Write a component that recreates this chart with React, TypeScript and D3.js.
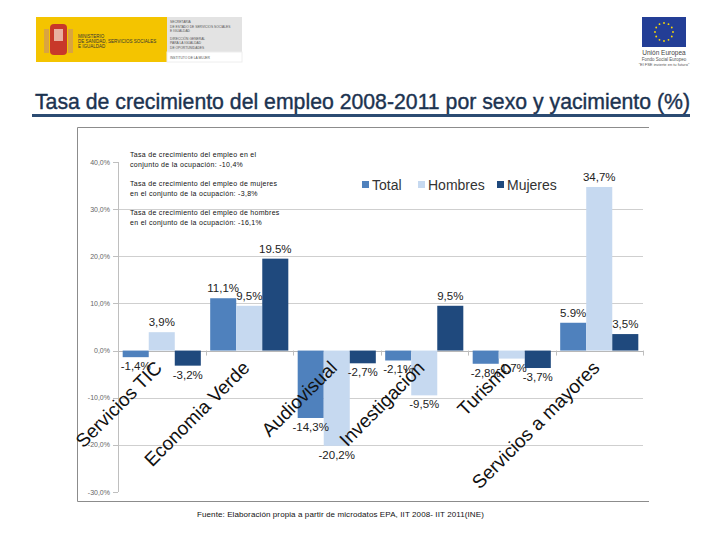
import { useEffect, useRef } from 'react';
import * as d3 from 'd3';

const categories = ['Servicios TIC', 'Economia Verde', 'Audiovisual', 'Investigación', 'Turismo', 'Servicios a mayores'];
const seriesNames = ['Total', 'Hombres', 'Mujeres'];
const totalValues = [-1.4, 11.1, -14.3, -2.1, -2.8, 5.9];
const hombresValues = [3.9, 9.5, -20.2, -9.5, -1.7, 34.7];
const mujeresValues = [-3.2, 19.5, -2.7, 9.5, -3.7, 3.5];
const totalLabels = ['-1,4%', '11,1%', '-14,3%', '-2,1%', '-2,8%', '5.9%'];
const hombresLabels = ['3,9%', '9,5%', '-20,2%', '-9,5%', '-1,7%', '34,7%'];
const mujeresLabels = ['-3,2%', '19.5%', '-2,7%', '9,5%', '-3,7%', '3,5%'];
const yTicks = [40, 30, 20, 10, 0, -10, -20, -30];
const yTickLabels = ['40,0%', '30,0%', '20,0%', '10,0%', '0,0%', '-10,0%', '-20,0%', '-30,0%'];
const gridTicks = [30, 20, 10, 0, -10, -20];
const noteLines = [
  'Tasa de crecimiento del empleo en el',
  'conjunto de la ocupación: -10,4%',
  'Tasa de crecimiento del empleo de mujeres',
  'en el conjunto de la ocupación: -3,8%',
  'Tasa de crecimiento del empleo de hombres',
  'en el conjunto de la ocupación: -16,1%',
];
const colors = ['#4f81bd', '#c6d9f0', '#1f497d'];
const title = 'Tasa de crecimiento del empleo 2008-2011 por sexo y yacimiento (%)';
const source = 'Fuente: Elaboración propia a partir de microdatos EPA, IIT 2008- IIT 2011(INE)';

export default function App() {
  const svgRef = useRef<SVGSVGElement>(null);

  useEffect(() => {
    if (!svgRef.current) return;
    const svg = d3.select(svgRef.current);
    svg.selectAll('*').remove();
    const font = 'Arial, "Liberation Sans", sans-serif';

    svg.append('rect').attr('width', 720).attr('height', 540).attr('fill', '#fff');

    // logos (simplified)
    const logo = svg.append('g');
    logo.append('rect').attr('x', 36).attr('y', 17).attr('width', 131).attr('height', 45).attr('fill', '#f4c400');
    logo.append('rect').attr('x', 167).attr('y', 17).attr('width', 75).attr('height', 35).attr('fill', '#e3e3e3');
    logo.append('rect').attr('x', 167).attr('y', 52).attr('width', 75).attr('height', 10).attr('fill', '#fff').attr('stroke', '#eee');
    logo.append('rect').attr('x', 44).attr('y', 29).attr('width', 5).attr('height', 24).attr('fill', '#d9a441');
    logo.append('rect').attr('x', 68).attr('y', 29).attr('width', 5).attr('height', 24).attr('fill', '#d9a441');
    logo.append('rect').attr('x', 50).attr('y', 24).attr('width', 17).attr('height', 31).attr('rx', 4).attr('fill', '#c8382a');
    logo.append('rect').attr('x', 54).attr('y', 29).attr('width', 9).attr('height', 12).attr('fill', '#e8b0a0');
    ['MINISTERIO', 'DE SANIDAD, SERVICIOS SOCIALES', 'E IGUALDAD'].forEach((t, i) => {
      logo.append('text').attr('x', 78).attr('y', 38 + i * 5).attr('font-size', 4.5).attr('font-family', font)
        .attr('fill', '#333').text(t);
    });
    ['SECRETARÍA', 'DE ESTADO DE SERVICIOS SOCIALES', 'E IGUALDAD', 'DIRECCIÓN GENERAL', 'PARA LA IGUALDAD', 'DE OPORTUNIDADES'].forEach((t, i) => {
      logo.append('text').attr('x', 170).attr('y', 23 + i * 4.5 + (i > 2 ? 3 : 0)).attr('font-size', 3.3)
        .attr('font-family', font).attr('fill', '#555').text(t);
    });
    logo.append('text').attr('x', 170).attr('y', 59).attr('font-size', 3.3).attr('font-family', font)
      .attr('fill', '#555').text('INSTITUTO DE LA MUJER');

    const eu = svg.append('g');
    eu.append('rect').attr('x', 642).attr('y', 17).attr('width', 44).attr('height', 30).attr('fill', '#233e96');
    d3.range(12).forEach(i => {
      const a = (i / 12) * Math.PI * 2;
      eu.append('circle').attr('cx', 664 + Math.cos(a) * 9).attr('cy', 32 + Math.sin(a) * 9).attr('r', 0.9).attr('fill', '#ffdd00');
    });
    eu.append('text').attr('x', 664).attr('y', 55).attr('text-anchor', 'middle').attr('font-size', 6.5)
      .attr('font-family', font).attr('fill', '#444').text('Unión Europea');
    eu.append('text').attr('x', 664).attr('y', 61).attr('text-anchor', 'middle').attr('font-size', 4.5)
      .attr('font-family', font).attr('fill', '#555').text('Fondo Social Europeo');
    eu.append('text').attr('x', 664).attr('y', 66).attr('text-anchor', 'middle').attr('font-size', 4)
      .attr('font-family', font).attr('fill', '#555').text('"El FSE invierte en tu futuro"');

    // title
    svg.append('text').attr('x', 35).attr('y', 109)
      .attr('font-size', 22).attr('font-family', font).attr('fill', '#1c3350')
      .attr('stroke', '#1c3350').attr('stroke-width', 0.4)
      .attr('textLength', 655).attr('lengthAdjust', 'spacingAndGlyphs').text(title);
    svg.append('rect').attr('x', 32).attr('y', 114).attr('width', 658).attr('height', 3).attr('fill', '#2b4b72');

    // frame
    svg.append('path').attr('d', 'M649,127.5H77.5V501.5H649').attr('fill', 'none').attr('stroke', '#8c8c8c').attr('stroke-width', 1);

    // scales
    const y = d3.scaleLinear().domain([-30, 40]).range([492, 162]);
    const x0 = d3.scaleBand<string>().domain(categories).range([118, 643]).paddingInner(0).paddingOuter(0);
    const x1 = d3.scaleBand<string>().domain(seriesNames).range([0, x0.bandwidth()]).paddingInner(0).paddingOuter(0.18);

    // grid
    svg.append('g').selectAll('line').data(gridTicks).enter().append('line')
      .attr('x1', 113).attr('x2', 643)
      .attr('y1', d => Math.round(y(d)) + 0.5).attr('y2', d => Math.round(y(d)) + 0.5)
      .attr('stroke', d => d === 0 ? '#b8b8b8' : '#cfcfcf').attr('stroke-width', 1);
    svg.append('line').attr('x1', 118.5).attr('x2', 118.5).attr('y1', y(40)).attr('y2', y(-30))
      .attr('stroke', '#bfbfbf');
    svg.append('g').selectAll('line').data(yTicks).enter().append('line')
      .attr('x1', 113).attr('x2', 118)
      .attr('y1', d => Math.round(y(d)) + 0.5).attr('y2', d => Math.round(y(d)) + 0.5)
      .attr('stroke', '#bfbfbf');
    svg.append('g').selectAll('text').data(yTicks).enter().append('text')
      .attr('x', 110).attr('y', d => y(d) + 2.5).attr('text-anchor', 'end')
      .attr('font-size', 7).attr('font-family', font).attr('fill', '#666')
      .text((d, i) => yTickLabels[i]);

    // category ticks
    svg.append('g').selectAll('line').data(d3.range(categories.length + 1)).enter().append('line')
      .attr('x1', i => Math.round(118 + i * x0.step()) + 0.5).attr('x2', i => Math.round(118 + i * x0.step()) + 0.5)
      .attr('y1', y(0)).attr('y2', y(0) + 5).attr('stroke', '#bfbfbf');

    // bars
    const valueSets = [totalValues, hombresValues, mujeresValues];
    const labelSets = [totalLabels, hombresLabels, mujeresLabels];
    const barData = categories.flatMap((c, ci) => seriesNames.map((s, si) => ({
      cat: c, s, si, v: valueSets[si][ci], label: labelSets[si][ci],
    })));
    const bars = svg.append('g');
    bars.selectAll('rect').data(barData).enter().append('rect')
      .attr('x', d => (x0(d.cat) as number) + (x1(d.s) as number))
      .attr('width', x1.bandwidth())
      .attr('y', d => y(Math.max(0, d.v)))
      .attr('height', d => Math.abs(y(d.v) - y(0)))
      .attr('fill', d => colors[d.si]);
    bars.selectAll('text').data(barData).enter().append('text')
      .attr('x', d => (x0(d.cat) as number) + (x1(d.s) as number) + x1.bandwidth() / 2)
      .attr('y', d => d.v >= 0 ? y(d.v) - 6 : y(d.v) + 13)
      .attr('text-anchor', 'middle').attr('font-size', 11.5).attr('font-family', font)
      .attr('fill', '#222').text(d => d.label);

    // category labels
    svg.append('g').selectAll('text').data(categories).enter().append('text')
      .attr('transform', d => `translate(${(x0(d) as number) + x0.bandwidth() / 2 + 1.5},369) rotate(-45)`)
      .attr('text-anchor', 'end').attr('font-size', 19).attr('font-family', font).attr('fill', '#111')
      .text(d => d);

    // legend
    const legendX = [362, 418, 497];
    const lg = svg.append('g');
    seriesNames.forEach((s, i) => {
      lg.append('rect').attr('x', legendX[i]).attr('y', 181).attr('width', 7).attr('height', 7).attr('fill', colors[i]);
      lg.append('text').attr('x', legendX[i] + 10).attr('y', 189.5).attr('font-size', 14).attr('font-family', font)
        .attr('fill', '#333').text(s);
    });

    // notes
    const noteY = [157, 167, 186, 196, 215, 225];
    svg.append('g').selectAll('text').data(noteLines).enter().append('text')
      .attr('x', 130).attr('y', (d, i) => noteY[i]).attr('font-size', 7).attr('letter-spacing', 0.3)
      .attr('font-family', font).attr('fill', '#111').text(d => d);

    // source
    svg.append('text').attr('x', 197).attr('y', 517).attr('font-size', 8).attr('letter-spacing', 0.1)
      .attr('font-family', font).attr('fill', '#111').text(source);
  }, []);

  return (
    <svg ref={svgRef} width={720} height={540}
      style={{ position: 'absolute', left: 0, top: 0, display: 'block' }} />
  );
}
